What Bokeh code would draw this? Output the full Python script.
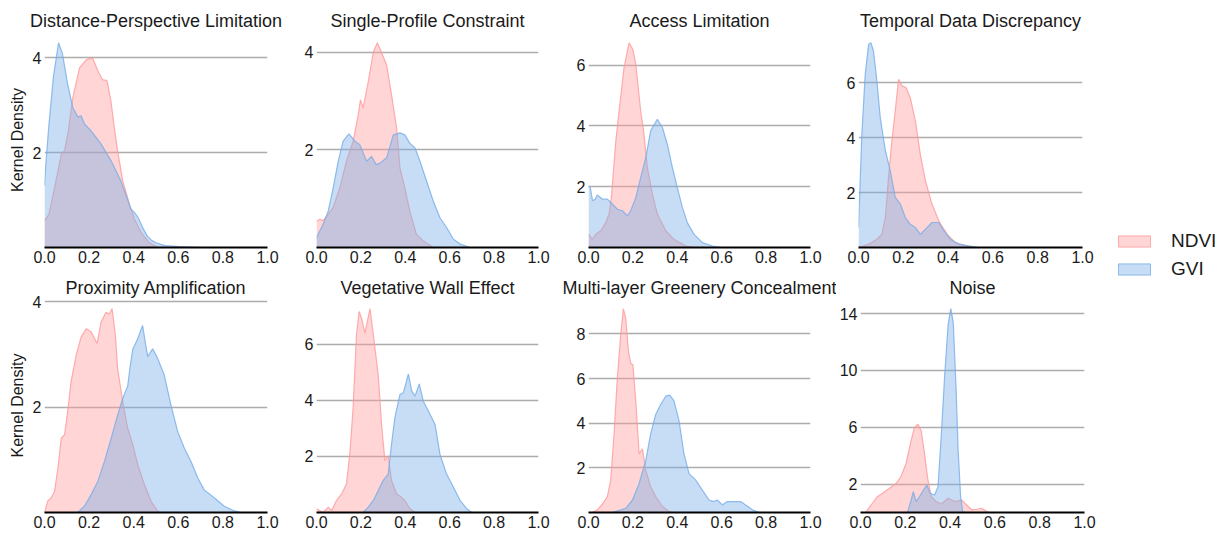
from bokeh.plotting import figure
from bokeh.layouts import row, column
from bokeh.models import (FixedTicker, PrintfTickFormatter, Legend, LegendItem,
                          Range1d, ColumnDataSource)
from bokeh.embed import file_html
from bokeh.resources import INLINE

FONT = "Liberation Sans"
NDVI_COLOR = "#FF9A9A"
GVI_COLOR = "#76ADE8"

titles = ["Distance-Perspective Limitation", "Single-Profile Constraint",
          "Access Limitation", "Temporal Data Discrepancy",
          "Proximity Amplification", "Vegetative Wall Effect",
          "Multi-layer Greenery Concealment", "Noise"]

x_ticks = [0.0, 0.2, 0.4, 0.6, 0.8, 1.0]
y_ticks = [[2, 4], [2, 4], [2, 4, 6], [2, 4, 6],
           [2, 4], [2, 4, 6], [2, 4, 6, 8], [2, 6, 10, 14]]

# --- Distance-Perspective Limitation
p1_ndvi_x = [0, .02, .045, .075, .09, .105, .127, .157, .187, .216, .24, .26, .28, .298, .313, .328, .351, .366, .381, .403, .433, .47, .51]
p1_ndvi_y = [.56, .7, 1.26, 1.96, 2.05, 2.4, 3.16, 3.79, 3.96, 4.0, 3.72, 3.54, 3.52, 3.09, 2.53, 2.04, 1.4, 1.16, .91, .6, .32, .1, 0]
p1_gvi_x = [0, .005, .02, .04, .063, .08, .104, .127, .15, .164, .18, .209, .254, .3, .343, .388, .403, .42, .44, .46, .48, .5, .54, .6, .7]
p1_gvi_y = [1.3, 1.7, 2.6, 3.6, 4.32, 4.1, 3.44, 2.95, 2.75, 2.78, 2.6, 2.46, 2.18, 1.82, 1.40, .81, .74, .63, .42, .25, .15, .1, .04, .02, 0]

# --- Single-Profile Constraint
p2_ndvi_x = [0, .015, .03, .053, .075, .105, .135, .165, .188, .198, .21, .233, .256, .274, .293, .316, .338, .361, .376, .398, .42, .45, .48, .526]
p2_ndvi_y = [.54, .58, .55, .68, .82, 1.22, 1.77, 2.18, 2.72, 3.03, 2.86, 3.4, 4.01, 4.2, 4.0, 3.74, 3.13, 2.45, 1.63, 1.22, .75, .27, .14, 0]
p2_gvi_x = [0, .03, .053, .075, .098, .12, .146, .173, .195, .226, .248, .268, .286, .316, .346, .376, .398, .42, .444, .466, .496, .526, .556, .586, .617, .647, .692]
p2_gvi_y = [.2, .48, .75, 1.22, 1.77, 2.18, 2.33, 2.18, 2.11, 1.77, 1.87, 1.70, 1.73, 1.84, 2.31, 2.35, 2.31, 2.14, 2.04, 1.77, 1.36, .95, .61, .41, .17, .07, 0]

# --- Access Limitation
p3_ndvi_x = [0, .018, .033, .055, .078, .093, .103, .123, .138, .16, .183, .2, .213, .235, .25, .265, .288, .31, .348, .385, .438, .48]
p3_ndvi_y = [.44, .27, .44, .55, .82, 1.1, 1.64, 3.5, 4.5, 5.92, 6.74, 6.52, 6.03, 4.5, 3.73, 2.63, 1.75, 1.1, .55, .27, .05, 0]
p3_gvi_x = [0, .008, .018, .03, .04, .063, .085, .108, .13, .153, .175, .19, .213, .235, .258, .28, .31, .333, .355, .378, .4, .423, .445, .475, .513, .558, .6]
p3_gvi_y = [2.03, 1.97, 1.54, 1.59, 1.73, 1.59, 1.59, 1.43, 1.26, 1.21, 1.04, 1.21, 1.64, 2.3, 2.96, 3.84, 4.22, 3.95, 3.4, 2.63, 1.97, 1.32, .82, .44, .16, .05, 0]

# --- Temporal Data Discrepancy
p4_ndvi_x = [0, .045, .082, .104, .12, .134, .149, .164, .179, .194, .212, .231, .254, .276, .299, .328, .358, .396, .433, .478, .52]
p4_ndvi_y = [0, .12, .3, .48, 1.09, 2.55, 3.88, 4.97, 6.12, 5.88, 5.82, 5.45, 4.6, 3.39, 2.42, 1.58, .97, .48, .18, .06, 0]
p4_gvi_x = [0, .007, .015, .03, .045, .055, .067, .082, .097, .12, .142, .164, .187, .209, .231, .254, .276, .299, .328, .358, .381, .41, .448, .49, .537]
p4_gvi_y = [.73, 2.3, 4.12, 6.3, 7.39, 7.45, 7.15, 6.06, 4.73, 3.52, 2.79, 1.82, 1.58, 1.09, .85, .73, .48, .67, .91, .91, .61, .3, .12, .06, 0]

# --- Proximity Amplification
p5_ndvi_x = [0, .015, .03, .045, .06, .075, .09, .104, .119, .142, .164, .187, .209, .236, .254, .276, .291, .303, .318, .328, .351, .373, .396, .418, .448, .478, .507, .52]
p5_ndvi_y = [0, .22, .28, .4, .84, 1.41, 1.48, 1.92, 2.48, 2.99, 3.33, 3.49, 3.43, 3.21, 3.62, 3.8, 3.77, 3.87, 3.36, 2.73, 2.1, 1.6, 1.29, .91, .53, .21, .03, 0]
p5_gvi_x = [.149, .179, .209, .239, .269, .299, .328, .351, .373, .385, .396, .418, .44, .455, .463, .485, .507, .537, .567, .597, .627, .657, .687, .716, .761, .806, .851, .88]
p5_gvi_y = [0, .12, .34, .59, .97, 1.41, 1.85, 2.17, 2.4, 2.8, 3.1, 3.3, 3.55, 3.15, 2.96, 3.11, 2.93, 2.61, 2.04, 1.54, 1.22, .97, .66, .43, .28, .12, .03, 0]

# --- Vegetative Wall Effect
p6_ndvi_x = [0, .015, .03, .053, .068, .09, .113, .135, .15, .165, .18, .192, .203, .218, .229, .241, .256, .278, .293, .308, .323, .338, .361, .383, .398, .421, .444]
p6_ndvi_y = [.13, .07, 0, .19, .07, .43, .66, 1.02, 2.08, 3.74, 6.34, 7.17, 6.93, 6.4, 6.81, 7.27, 6.34, 4.91, 3.14, 1.85, 2.02, 1.14, .66, .54, .43, .13, 0]
p6_gvi_x = [.21, .233, .256, .278, .3, .323, .338, .353, .376, .391, .414, .429, .444, .463, .481, .504, .534, .556, .586, .617, .647, .677, .7]
p6_gvi_y = [0, .19, .43, .78, 1.14, 1.37, 2.44, 3.38, 4.21, 4.27, 4.94, 4.33, 4.15, 4.59, 3.97, 3.62, 3.14, 2.08, 1.37, .9, .43, .13, 0]

# --- Multi-layer Greenery Concealment
p7_ndvi_x = [.018, .04, .063, .085, .1, .115, .13, .145, .157, .168, .18, .19, .2, .213, .228, .243, .258, .28, .303, .333, .363, .378]
p7_ndvi_y = [0, .12, .38, .71, 1.45, 3.52, 6.03, 7.95, 9.13, 8.69, 7.21, 6.69, 6.62, 4.99, 2.63, 2.85, 1.89, 1.15, .71, .27, .04, 0]
p7_gvi_x = [.108, .168, .198, .228, .258, .28, .303, .325, .348, .366, .385, .408, .43, .453, .483, .513, .543, .565, .58, .603, .625, .655, .685, .708, .738, .768]
p7_gvi_y = [0, .19, .56, 1.3, 2.33, 3.52, 4.4, 4.84, 5.21, 5.26, 5.0, 4.1, 2.63, 1.74, 1.45, 1.0, .56, .49, .56, .34, .49, .49, .49, .34, .12, 0]

# --- Noise
p8_ndvi_x = [.023, .053, .075, .098, .128, .158, .18, .203, .226, .241, .256, .271, .286, .301, .316, .338, .361, .391, .421, .451, .474, .496, .519, .541, .564, .579]
p8_ndvi_y = [0, .65, 1.11, 1.35, 1.69, 2.04, 2.5, 3.43, 5.06, 5.99, 6.22, 5.75, 4.13, 2.27, 1.11, .77, .6, 1.0, .77, .88, .53, .19, .23, .3, .07, 0]
p8_gvi_x = [.21, .226, .236, .248, .263, .281, .296, .311, .331, .346, .361, .376, .391, .403, .414, .426, .436, .447, .456, .466]
p8_gvi_y = [0, .88, 1.46, .77, 1.11, 1.58, 1.93, 1.35, 1.23, 1.81, 5.52, 9.7, 13.18, 14.34, 13.4, 9.0, 4.36, 1.11, .07, 0]

panels = [
    (p1_ndvi_x, p1_ndvi_y, p1_gvi_x, p1_gvi_y),
    (p2_ndvi_x, p2_ndvi_y, p2_gvi_x, p2_gvi_y),
    (p3_ndvi_x, p3_ndvi_y, p3_gvi_x, p3_gvi_y),
    (p4_ndvi_x, p4_ndvi_y, p4_gvi_x, p4_gvi_y),
    (p5_ndvi_x, p5_ndvi_y, p5_gvi_x, p5_gvi_y),
    (p6_ndvi_x, p6_ndvi_y, p6_gvi_x, p6_gvi_y),
    (p7_ndvi_x, p7_ndvi_y, p7_gvi_x, p7_gvi_y),
    (p8_ndvi_x, p8_ndvi_y, p8_gvi_x, p8_gvi_y),
]

# layout geometry (pixels): per row, per column
frame_w = [223, 222, 222, 224]
border_l = [[44, 30, 30, 30], [44, 30, 38, 22]]
border_r = [[19, 20, 18, 20], [19, 12, 26, 20]]
frame_h = [215, 214]
border_t = [32, 26]
border_b = [25, 22]
title_standoff = [3, 1]

TICK_SIZE = "16px"
AXIS_LABEL_SIZE = "16px"


def make_panel(i):
    r, c = divmod(i, 4)
    nx, ny, gx, gy = panels[i]
    ymax = max(max(ny), max(gy)) * 1.05
    p = figure(frame_width=frame_w[c], frame_height=frame_h[r],
               min_border_left=border_l[r][c], min_border_right=border_r[r][c],
               min_border_top=border_t[r], min_border_bottom=border_b[r],
               x_range=Range1d(0, 1), y_range=Range1d(0, ymax),
               output_backend="svg", toolbar_location=None, title=titles[i])
    p.title.align = "center"
    p.title.text_font = FONT
    p.title.text_font_size = "18px"
    p.title.text_font_style = "normal"
    p.title.text_color = "#1a1a1a"
    p.title.standoff = title_standoff[r]
    p.outline_line_color = None
    p.background_fill_color = "white"
    p.border_fill_color = "white"

    p.xaxis.ticker = FixedTicker(ticks=x_ticks)
    p.xaxis.formatter = PrintfTickFormatter(format="%.1f")
    p.xaxis.major_tick_out = 0
    p.xaxis.major_tick_in = 0
    p.xaxis.minor_tick_out = 0
    p.xaxis.minor_tick_in = 0
    p.xaxis.axis_line_color = "black"
    p.xaxis.axis_line_width = 2
    p.xaxis.major_label_text_font = FONT
    p.xaxis.major_label_text_font_size = TICK_SIZE
    p.xaxis.major_label_text_color = "#1a1a1a"
    p.xaxis.major_label_standoff = 3

    p.yaxis.ticker = FixedTicker(ticks=y_ticks[i])
    p.yaxis.major_tick_out = 0
    p.yaxis.major_tick_in = 0
    p.yaxis.minor_tick_out = 0
    p.yaxis.minor_tick_in = 0
    p.yaxis.axis_line_color = None
    p.yaxis.major_label_text_font = FONT
    p.yaxis.major_label_text_font_size = TICK_SIZE
    p.yaxis.major_label_text_color = "#1a1a1a"
    p.yaxis.major_label_standoff = 3
    if c == 0:
        p.yaxis.axis_label = "Kernel Density"
        p.yaxis.axis_label_text_font = FONT
        p.yaxis.axis_label_text_font_size = AXIS_LABEL_SIZE
        p.yaxis.axis_label_text_font_style = "normal"
        p.yaxis.axis_label_text_color = "#1a1a1a"
        p.yaxis.axis_label_standoff = 4

    p.xgrid.visible = False
    p.ygrid.grid_line_color = "#adadad"
    p.ygrid.grid_line_width = 1.5

    p.varea(x=nx, y1=0, y2=ny, fill_color=NDVI_COLOR, fill_alpha=0.42)
    p.line(x=nx, y=ny, line_color=NDVI_COLOR, line_alpha=0.8, line_width=1.2)
    p.varea(x=gx, y1=0, y2=gy, fill_color=GVI_COLOR, fill_alpha=0.42)
    p.line(x=gx, y=gy, line_color=GVI_COLOR, line_alpha=0.8, line_width=1.2)
    return p


figs = [make_panel(i) for i in range(8)]

# legend figure (its dummy quads lie outside the visible range)
legend_names = ["NDVI", "GVI"]
legend_colors = [NDVI_COLOR, GVI_COLOR]
lf = figure(width=118, height=534, x_range=Range1d(0, 1), y_range=Range1d(0, 1),
            x_axis_location=None, y_axis_location=None, min_border=0,
            output_backend="svg", toolbar_location=None)
lf.grid.visible = False
lf.outline_line_color = None
src = ColumnDataSource(data=dict(l=[5], r=[6], b=[5], t=[6]))
items = []
for name, col in zip(legend_names, legend_colors):
    rr = lf.quad(left="l", right="r", bottom="b", top="t", source=src,
                 fill_color=col, fill_alpha=0.42, line_color=col, line_alpha=0.8)
    items.append(LegendItem(label=name, renderers=[rr]))
leg = Legend(items=items,
             location=(10, 254), glyph_width=40, glyph_height=14,
             label_standoff=17, spacing=6, padding=0, margin=0,
             label_text_font=FONT, label_text_font_size="19px",
             label_text_color="#1a1a1a",
             border_line_color=None, background_fill_alpha=0)
lf.add_layout(leg)

layout = row(column(row(*figs[:4]), row(*figs[4:])), lf)
open("out.html", "w").write(file_html(layout, INLINE))
